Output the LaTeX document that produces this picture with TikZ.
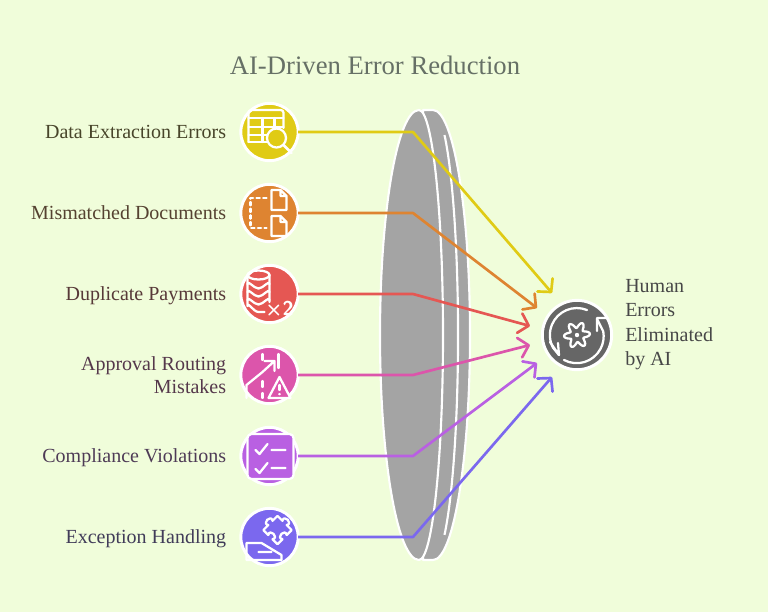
\documentclass[tikz,border=0pt]{standalone}
\usepackage{fontspec}
\usepackage{tikz}
\usepackage{xcolor}
\setmainfont{Liberation Serif}
\usetikzlibrary{positioning, arrows.meta}
\definecolor{bgpale}{HTML}{F0FDDA}
\definecolor{lensgray}{HTML}{A4A4A4}
\definecolor{hubgray}{HTML}{666666}
\definecolor{cyellow}{HTML}{E0CB15}
\definecolor{corange}{HTML}{DE8431}
\definecolor{cred}{HTML}{E55753}
\definecolor{cpink}{HTML}{DC55AB}
\definecolor{cpurple}{HTML}{B960E2}
\definecolor{cblue}{HTML}{7B68EE}
\tikzset{
    icnode/.style={circle, draw=white, line width=2.2pt, minimum size=43pt, inner sep=0pt, outer sep=0pt},
    lbl/.style={font=\fontsize{15}{17.5}\selectfont, align=right, left=7.5pt of #1},
    oneline/.style={text height=12pt, text depth=2.2pt},
    lens/.style={fill=lensgray, draw=white, line width=1.6pt, line join=round},
    conn/.style={line width=2pt, line join=round, -{Straight Barb[length=7pt, width=15pt, round]}},
    icline/.style={draw=white, line width=1.7pt, line cap=round, line join=round}
}
\begin{document}
\begin{tikzpicture}[x=0.75pt, y=-0.75pt]
    \path[use as bounding box, fill=bgpale] (0,0) rectangle (768,612);
    \node[font=\fontsize{20}{24}\selectfont, text=black!80!green!20!gray] (title) at (375,65) {AI-Driven Error Reduction};
    % lens
    \draw[lens] (423,110) -- (433,110) arc[start angle=-90, end angle=90, x radius=37, y radius=225] -- (423,560) -- cycle;
    \draw[white, line width=1.6pt] (444.5,135) arc[start angle=-62.7, end angle=62.7, x radius=25, y radius=225];
    \draw[lens] (419,110) arc[start angle=-90, end angle=90, x radius=24, y radius=225] arc[start angle=90, end angle=270, x radius=39, y radius=225] -- cycle;
    % left column
    \node[icnode, fill=cyellow] (ic1) at (269.5,132) {};
    \node[icnode, fill=corange, below=17.75pt of ic1] (ic2) {};
    \node[icnode, fill=cred, below=17.75pt of ic2] (ic3) {};
    \node[icnode, fill=cpink, below=17.75pt of ic3] (ic4) {};
    \node[icnode, fill=cpurple, below=17.75pt of ic4] (ic5) {};
    \node[icnode, fill=cblue, below=17.75pt of ic5] (ic6) {};
    \node[lbl=ic1, oneline, text=cyellow!18!black!85] (lb1) {Data Extraction Errors};
    \node[lbl=ic2, oneline, text=corange!25!black!85] (lb2) {Mismatched Documents};
    \node[lbl=ic3, oneline, text=cred!25!black!85] (lb3) {Duplicate Payments};
    \node[lbl=ic4, text=cpink!25!black!85] (lb4) {Approval Routing\\Mistakes};
    \node[lbl=ic5, oneline, text=cpurple!25!black!85] (lb5) {Compliance Violations};
    \node[lbl=ic6, oneline, text=cblue!25!black!85] (lb6) {Exception Handling};
    % hub
    \node[icnode, fill=hubgray, minimum size=52pt] (hub) at (577,335) {};
    \node[anchor=west, align=left, inner sep=0pt, text=black!72, font=\fontsize{15}{18.2}\selectfont] (hubtext) at (625,324.5) {Human\\Errors\\Eliminated\\by AI};
    % connectors
    \coordinate (bx) at (413,0);
    \coordinate (t1) at (552,293);
    \coordinate (t2) at (537,308);
    \coordinate (t3) at (530,326);
    \coordinate (t4) at (530,345);
    \coordinate (t5) at (537,363);
    \coordinate (t6) at (552,377);
    \foreach \n/\c in {1/cyellow,2/corange,3/cred,4/cpink,5/cpurple,6/cblue}
        \draw[conn, \c] (ic\n.east) -- (bx |- ic\n) -- (t\n);
    % icons
    \begin{scope}[shift={(ic1.center)}]
        \draw[icline, rounded corners=2pt] (-21,10) -- (-21,-22) -- (14,-22) -- (14,-4);
        \draw[icline] (-21,-14) -- (14,-14) (-21,-5) -- (14,-5) (-21,3) -- (-3,3) (-21,10) -- (-3,10);
        \draw[icline] (-7,-14) -- (-7,10) (5,-14) -- (5,-5);
        \draw[icline, fill=cyellow] (7,6) circle (9.5);
        \draw[icline, line width=2pt] (14,13) -- (22,21);
    \end{scope}
    \begin{scope}[shift={(ic2.center)}]
        \draw[icline] (2,-23) -- (11,-23) -- (17,-17) -- (17,-3) -- (2,-3) -- cycle (11,-23) -- (11,-17) -- (17,-17);
        \draw[icline] (2,3) -- (11,3) -- (17,9) -- (17,23) -- (2,23) -- cycle (11,3) -- (11,9) -- (17,9);
        \draw[icline, dashed, dash pattern=on 2.5pt off 2.5pt] (-3,-15) -- (-19,-15) -- (-19,15) -- (-3,15);
    \end{scope}
    \begin{scope}[shift={(ic3.center)}]
        \draw[icline] (-11,-19) ellipse (11 and 4.5);
        \draw[icline] (-22,-19) -- (-22,12) to[out=90,in=180] (-11,18) -- (-5,18) (0,-19) -- (0,8);
        \foreach \y in {-10,-2,6}
            \draw[icline] (-22,\y) to[out=90,in=180] (-11,\y+4.5) to[out=0,in=90] (0,\y);
        \node[text=white, font=\sffamily\bfseries\fontsize{15}{15}\selectfont, inner sep=0pt] (times2) at (10,15) {×2};
    \end{scope}
    \begin{scope}[shift={(ic4.center)}]
        \draw[icline] (-7,-21) -- (-7,-15) (9,-21) -- (9,-7);
        \draw[icline] (-23,23) -- (-23,10) -- (-7,-3) -- (5,-14) (-5,-14) -- (5,-14) -- (5,-4);
        \draw[icline] (-7,6) -- (-7,12) (-7,18) -- (-7,23);
        \draw[icline, fill=cpink] (10,2) -- (-1,23) -- (21,23) -- cycle;
        \draw[icline] (10,10) -- (10,15) (10,19) -- (10,19.2);
    \end{scope}
    \begin{scope}[shift={(ic5.center)}]
        \draw[icline, fill=cpurple, rounded corners=3pt] (-22,-22) rectangle (24,23);
        \draw[icline] (-14,-6) -- (-10,-2) -- (-2,-12) (2,-6) -- (16,-6);
        \draw[icline] (-14,13) -- (-10,17) -- (-2,7) (2,12) -- (16,12);
    \end{scope}
    \begin{scope}[shift={(ic6.center)}]
        \draw[icline] (-23,23) -- (-23,6) -- (-8,6) -- (12,18) -- (12,23) -- cycle (-11,15) -- (2,15);
        \begin{scope}[shift={(8,-7)}, rotate=45]
            \draw[icline] (-10,-10) -- (-3,-10) .. controls (-7,-16) and (7,-16) .. (3,-10) -- (10,-10) -- (10,-3) .. controls (16,-7) and (16,7) .. (10,3) -- (10,10) -- (3,10) .. controls (7,4) and (-7,4) .. (-3,10) -- (-10,10) -- (-10,3) .. controls (-4,7) and (-4,-7) .. (-10,-3) -- cycle;
        \end{scope}
    \end{scope}
    \begin{scope}[shift={(hub.center)}]
        \draw[icline] (10,-25) arc[start angle=-68, end angle=-208, radius=27] -- (-18,20);
        \draw[icline] (-13,25) arc[start angle=118, end angle=-10, radius=27] -- (20,-16);
        \draw[icline] (-27,7) -- (-18,20) -- (-19,8) (30,-17) -- (20,-17) -- (20,-4);
        \draw[icline] plot[domain=0:360, samples=73, smooth] ({(10+3*cos(6*\x+30))*cos(\x)},{(10+3*cos(6*\x+30))*sin(\x)});
        \fill[white] (0,0) circle (2.2);
    \end{scope}
\end{tikzpicture}
\end{document}
